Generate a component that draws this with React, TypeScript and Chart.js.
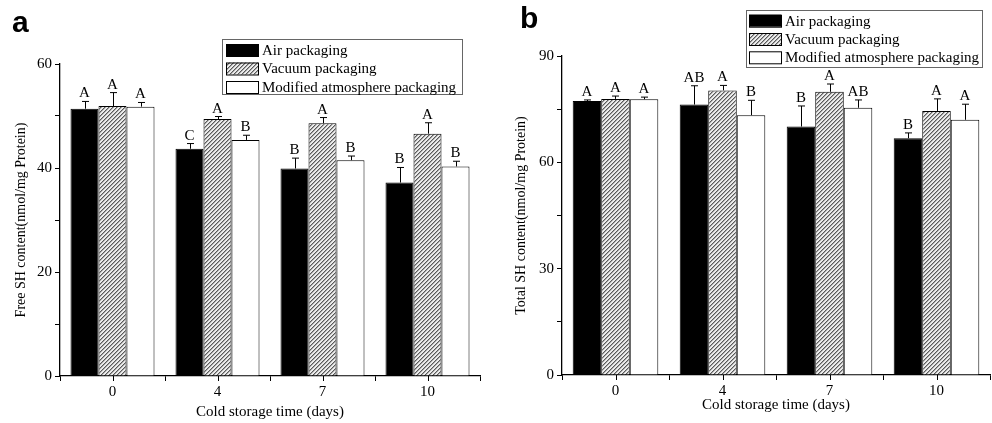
import React, { useEffect, useRef } from "react";
import { Chart, registerables } from "chart.js";
Chart.register(...registerables);

// ---------- data ----------
const categories = ["0", "4", "7", "10"];
const seriesNames = ["Air packaging", "Vacuum packaging", "Modified atmosphere packaging"];

const freeAir = [51.4, 43.7, 39.9, 37.2];
const freeVac = [51.9, 49.4, 48.6, 46.6];
const freeMap = [51.8, 45.4, 41.5, 40.3];
const freeAirErr = [1.4, 1.0, 2.0, 2.9];
const freeVacErr = [2.6, 0.5, 1.1, 2.1];
const freeMapErr = [0.8, 0.9, 0.8, 1.0];
const freeAirSig = ["A", "C", "B", "B"];
const freeVacSig = ["A", "A", "A", "A"];
const freeMapSig = ["A", "B", "B", "B"];
const freeTickLabels = [0, 20, 40, 60];

const totalAir = [77.3, 76.3, 70.1, 66.8];
const totalVac = [77.9, 80.3, 79.9, 74.5];
const totalMap = [77.8, 73.3, 75.4, 72.0];
const totalAirErr = [0.3, 5.3, 5.8, 1.5];
const totalVacErr = [0.8, 1.4, 2.2, 3.4];
const totalMapErr = [0.6, 4.2, 2.2, 4.4];
const totalAirSig = ["A", "AB", "B", "B"];
const totalVacSig = ["A", "A", "A", "A"];
const totalMapSig = ["A", "B", "AB", "A"];
const totalTickLabels = [0, 30, 60, 90];

const SERIF = '"Liberation Serif", "Times New Roman", serif';

function makeHatch(): CanvasPattern | string {
  const c = document.createElement("canvas");
  c.width = 4;
  c.height = 4;
  const g = c.getContext("2d");
  if (!g) return "#aaa";
  const cols = ["#5a5a5a", "#a8a8a8", "#ececec", "#ececec"];
  for (let x = 0; x < 4; x++) {
    for (let y = 0; y < 4; y++) {
      g.fillStyle = cols[(x + y + 1) % 4];
      g.fillRect(x, y, 1, 1);
    }
  }
  const p = g.createPattern(c, "repeat");
  return p || "#aaa";
}

const annotPlugin = {
  id: "annot",
  afterDatasetsDraw(chart: any, _args: any, o: any) {
    const ctx = chart.ctx;
    const ys = chart.scales.y;
    const xs = chart.scales.x;
    ctx.save();
    ctx.strokeStyle = "#000";
    ctx.lineWidth = 1;
    const bottom = chart.chartArea.bottom;
    for (let k = 0; k < categories.length; k++) {
      const px = Math.round(xs.getPixelForValue(k)) + 0.5;
      ctx.beginPath();
      ctx.moveTo(px, bottom);
      ctx.lineTo(px, bottom + 5);
      ctx.stroke();
    }
    chart.data.datasets.forEach((ds: any, i: number) => {
      const meta = chart.getDatasetMeta(i);
      meta.data.forEach((el: any, j: number) => {
        const v = ds.data[j];
        const e = o.errors[i][j];
        const top = ys.getPixelForValue(v);
        const et = ys.getPixelForValue(v + e);
        const x = Math.round(el.x) + 0.5;
        ctx.strokeStyle = "#000";
        ctx.lineWidth = 1;
        ctx.beginPath();
        ctx.moveTo(x, top);
        ctx.lineTo(x, et);
        ctx.moveTo(x - 3.5, et);
        ctx.lineTo(x + 3.5, et);
        ctx.stroke();
        ctx.font = "15px " + SERIF;
        ctx.textAlign = "center";
        ctx.textBaseline = "alphabetic";
        ctx.fillStyle = "#000";
        ctx.fillText(o.letters[i][j], el.x, et - 4);
      });
    });
    ctx.restore();
  },
};

const boxLegendPlugin = {
  id: "boxLegend",
  afterDraw(chart: any, _args: any, o: any) {
    const ctx = chart.ctx;
    ctx.save();
    ctx.strokeStyle = "#666";
    ctx.lineWidth = 1;
    ctx.strokeRect(o.x + 0.5, o.y + 0.5, o.w, o.h);
    chart.data.datasets.forEach((ds: any, i: number) => {
      const cy = o.firstCenter + i * o.rowGap;
      ctx.fillStyle = ds.backgroundColor;
      ctx.fillRect(o.swX, cy - 6, 32, 12);
      ctx.strokeStyle = "#000";
      ctx.strokeRect(o.swX + 0.5, cy - 6 + 0.5, 32, 12);
      ctx.fillStyle = "#000";
      ctx.font = "15px " + SERIF;
      ctx.textAlign = "left";
      ctx.textBaseline = "middle";
      ctx.fillText(ds.label, o.textX, cy + 1);
    });
    ctx.restore();
  },
};

function buildConfig(p: any) {
  const hatch = makeHatch();
  const fills = ["#000000", hatch, "#ffffff"];
  return {
    type: "bar",
    data: {
      labels: categories,
      datasets: p.values.map((vals: number[], i: number) => ({
        label: seriesNames[i],
        data: vals,
        backgroundColor: fills[i],
        borderColor: "#000",
        borderWidth: 1,
        categoryPercentage: 0.8,
        barPercentage: 1.0,
      })),
    },
    options: {
      responsive: false,
      animation: false,
      devicePixelRatio: 1,
      layout: { padding: { left: 0, right: p.padRight, top: p.padTop, bottom: 0 } },
      plugins: {
        legend: { display: false },
        tooltip: { enabled: false },
        annot: { errors: p.errors, letters: p.letters },
        boxLegend: p.legend,
      },
      scales: {
        x: {
          type: "category",
          offset: true,
          afterFit: (s: any) => {
            s.height = p.xHeight;
          },
          grid: {
            offset: true,
            display: true,
            drawOnChartArea: false,
            drawTicks: true,
            tickLength: 5,
            color: "#000",
            lineWidth: 1,
          },
          border: { display: true, color: "#000", width: 1.3 },
          ticks: { color: "#000", font: { family: SERIF, size: 15 }, padding: 2, maxRotation: 0 },
          title: {
            display: true,
            text: "Cold storage time (days)",
            color: "#000",
            font: { family: SERIF, size: 15 },
            padding: { top: 0, bottom: p.xTitlePad },
          },
        },
        y: {
          min: 0,
          max: p.max,
          afterFit: (s: any) => {
            s.width = p.yWidth;
          },
          grid: {
            display: true,
            drawOnChartArea: false,
            drawTicks: true,
            tickLength: 5,
            color: "#000",
            lineWidth: 1,
          },
          border: { display: true, color: "#000", width: 1.3 },
          ticks: {
            stepSize: p.step,
            color: "#000",
            font: { family: SERIF, size: 15 },
            padding: 3,
            callback: (v: any) => (p.tickLabels.includes(v) ? String(v) : ""),
          },
          title: {
            display: true,
            text: p.yTitle,
            color: "#000",
            font: { family: SERIF, size: 14 },
            padding: { top: p.yTitlePad, bottom: 0 },
          },
        },
      },
    },
    plugins: [annotPlugin, boxLegendPlugin],
  };
}

function Panel(props: { cfg: any; left: number }) {
  const ref = useRef<HTMLCanvasElement>(null);
  useEffect(() => {
    if (!ref.current) return;
    const ch = new Chart(ref.current, buildConfig(props.cfg) as any);
    return () => ch.destroy();
  }, []);
  return (
    <canvas
      ref={ref}
      width={496}
      height={423}
      style={{ position: "absolute", left: props.left, top: 0, width: 496, height: 423 }}
    />
  );
}

const freeCfg = {
  values: [freeAir, freeVac, freeMap],
  errors: [freeAirErr, freeVacErr, freeMapErr],
  letters: [freeAirSig, freeVacSig, freeMapSig],
  max: 60,
  step: 10,
  tickLabels: freeTickLabels,
  yTitle: "Free SH content(nmol/mg Protein)",
  padRight: 16,
  padTop: 64,
  xHeight: 47,
  yWidth: 60,
  yTitlePad: 13,
  xTitlePad: 2,
  legend: { x: 222, y: 39, w: 240, h: 55, swX: 226, textX: 262, firstCenter: 50, rowGap: 18.5 },
};

const totalCfg = {
  values: [totalAir, totalVac, totalMap],
  errors: [totalAirErr, totalVacErr, totalMapErr],
  letters: [totalAirSig, totalVacSig, totalMapSig],
  max: 90,
  step: 15,
  tickLabels: totalTickLabels,
  yTitle: "Total SH content(nmol/mg Protein)",
  padRight: 2,
  padTop: 56,
  xHeight: 48,
  yWidth: 66,
  yTitlePad: 17,
  xTitlePad: 9,
  legend: { x: 250, y: 10, w: 236, h: 57, swX: 253, textX: 289, firstCenter: 20.7, rowGap: 18.3 },
};

export default function App() {
  const letterStyle: React.CSSProperties = {
    position: "absolute",
    fontFamily: '"Liberation Sans", Arial, sans-serif',
    fontWeight: "bold",
    fontSize: 30,
    lineHeight: "30px",
    color: "#000",
  };
  return (
    <div
      style={{
        position: "fixed",
        left: 0,
        top: 0,
        width: 992,
        height: 423,
        background: "#fff",
        overflow: "hidden",
      }}
    >
      <Panel cfg={freeCfg} left={0} />
      <Panel cfg={totalCfg} left={496} />
      <div style={{ ...letterStyle, left: 12, top: 7 }}>a</div>
      <div style={{ ...letterStyle, left: 520, top: 3 }}>b</div>
    </div>
  );
}
